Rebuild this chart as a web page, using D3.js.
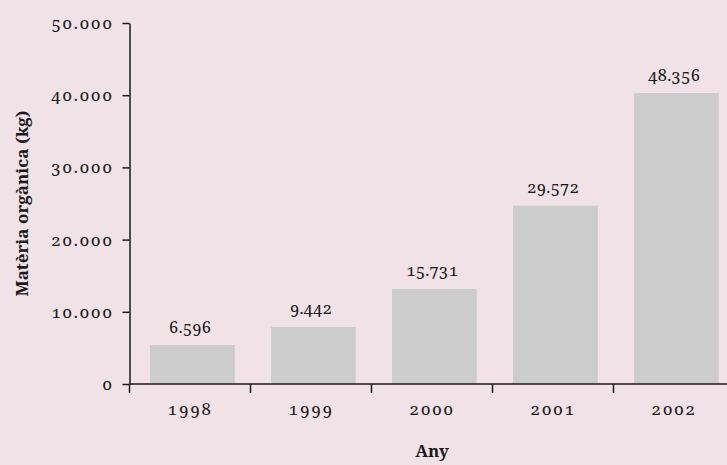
<!DOCTYPE html>
<html><head><meta charset="utf-8">
<script src="https://cdn.jsdelivr.net/npm/d3@7"></script>
<style>
body{margin:0;background:#f0e2e6;}
svg{display:block;}
text.num{font-variant-numeric:oldstyle-nums;font-feature-settings:"onum" 1;}
</style></head>
<body>
<svg id="chart" width="727" height="465"></svg>
<script>
// Data
const years = ["1998", "1999", "2000", "2001", "2002"];
const barValues = [5400, 7900, 13160, 24700, 40300];       // bar heights as drawn
const valueLabels = ["6.596", "9.442", "15.731", "29.572", "48.356"]; // printed labels
const yTicks = [0, 10000, 20000, 30000, 40000, 50000];
const yTitle = "Matèria orgànica (kg)";
const xTitle = "Any";

(function () {
const W = 727, H = 465;
const plotLeft = 129.5, plotTop = 23, baseline = 384, plotRight = 734.5;
const font = "Noto Serif";
const ink = "#1a1a1a";

const svg = d3.select("#chart");
svg.append("rect").attr("width", W).attr("height", H).attr("fill", "#f0e2e6");

const x = d3.scaleBand().domain(years).range([plotLeft, plotRight]).padding(0);
const y = d3.scaleLinear().domain([0, 50000]).range([baseline, plotTop]);
const fmt = d3.formatLocale({decimal: ",", thousands: ".", grouping: [3], currency: ["", ""]}).format(",d");

const data = years.map((yr, i) => ({year: yr, v: barValues[i], label: valueLabels[i]}));

// Bars
const bw = x.bandwidth();
svg.append("g").selectAll("rect").data(data).join("rect")
  .attr("x", d => x(d.year) + bw * 0.17)
  .attr("width", bw * 0.70)
  .attr("y", d => y(d.v))
  .attr("height", d => baseline - y(d.v))
  .attr("fill", "#cccccc");

// Value labels
svg.append("g").selectAll("text").data(data).join("text")
  .attr("class", "num")
  .attr("x", d => x(d.year) + bw / 2)
  .attr("y", d => y(d.v) - 12.5)
  .attr("text-anchor", "middle")
  .attr("font-family", font).attr("font-size", 16.5)
  .attr("fill", ink)
  .text(d => d.label);

// Y axis
const yAxis = svg.append("g").attr("transform", `translate(${plotLeft},0)`)
  .call(d3.axisLeft(y).tickValues(yTicks).tickFormat(fmt).tickSize(7).tickSizeOuter(0).tickPadding(9));
yAxis.attr("font-family", null).attr("font-size", null);
yAxis.select(".domain").attr("stroke", ink).attr("stroke-width", 1.5);
yAxis.selectAll(".tick line").attr("stroke", ink).attr("stroke-width", 1.5);
yAxis.selectAll(".tick text")
  .attr("class", "num")
  .attr("font-family", font).attr("font-size", 17)
  .attr("letter-spacing", "1.5px")
  .attr("fill", ink);

// X axis (labels at band centres, tick marks at band boundaries)
const xAxis = svg.append("g").attr("transform", `translate(0,${baseline})`)
  .call(d3.axisBottom(x).tickSize(0).tickPadding(19));
xAxis.attr("font-family", null).attr("font-size", null);
xAxis.select(".domain").remove();
xAxis.selectAll(".tick text")
  .attr("class", "num")
  .attr("font-family", font).attr("font-size", 17)
  .attr("letter-spacing", "1.5px")
  .attr("fill", ink);
svg.append("line").attr("x1", plotLeft).attr("x2", plotRight).attr("y1", baseline).attr("y2", baseline)
  .attr("stroke", ink).attr("stroke-width", 1.5);
svg.append("g").selectAll("line").data(years.concat(["end"])).join("line")
  .attr("x1", d => d === "end" ? plotRight : x(d))
  .attr("x2", d => d === "end" ? plotRight : x(d))
  .attr("y1", baseline).attr("y2", baseline + 9)
  .attr("stroke", ink).attr("stroke-width", 1.5);

// Axis titles
svg.append("text")
  .attr("transform", `translate(27.5,${(plotTop + baseline) / 2}) rotate(-90)`)
  .attr("text-anchor", "middle")
  .attr("font-family", font).attr("font-size", 17).attr("font-weight", "bold")
  .attr("fill", ink)
  .text(yTitle);
svg.append("text")
  .attr("x", (plotLeft + plotRight) / 2).attr("y", 457)
  .attr("text-anchor", "middle")
  .attr("font-family", font).attr("font-size", 17).attr("font-weight", "bold")
  .attr("fill", ink)
  .text(xTitle);
})();
</script>
</body></html>
